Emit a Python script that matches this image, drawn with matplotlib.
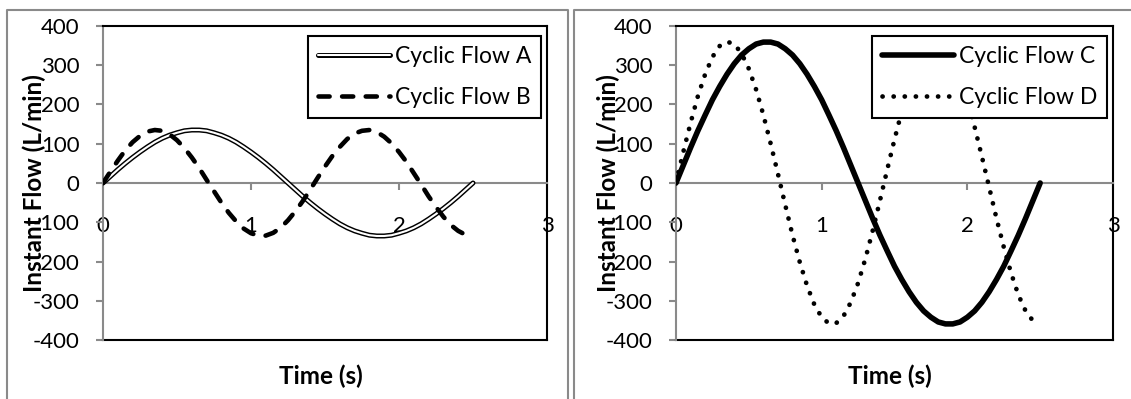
import matplotlib
matplotlib.use("Agg")
import matplotlib.pyplot as plt
from matplotlib.lines import Line2D

plt.rcParams['font.family'] = ['Lato', 'DejaVu Sans']
plt.rcParams['axes.unicode_minus'] = False
plt.rcParams['lines.scale_dashes'] = False

# ---- data -------------------------------------------------------------
time_s = [0.00, 0.05, 0.10, 0.15, 0.20, 0.25, 0.30, 0.35, 0.40, 0.45,
          0.50, 0.55, 0.60, 0.65, 0.70, 0.75, 0.80, 0.85, 0.90, 0.95,
          1.00, 1.05, 1.10, 1.15, 1.20, 1.25, 1.30, 1.35, 1.40, 1.45,
          1.50, 1.55, 1.60, 1.65, 1.70, 1.75, 1.80, 1.85, 1.90, 1.95,
          2.00, 2.05, 2.10, 2.15, 2.20, 2.25, 2.30, 2.35, 2.40, 2.45,
          2.50]

flow_a = [0, 17, 34, 50, 65, 79, 92, 104, 114, 122,
          128, 133, 135, 135, 133, 128, 122, 114, 104, 92,
          79, 65, 50, 34, 17, 0, -17, -34, -50, -65,
          -79, -92, -104, -114, -122, -128, -133, -135, -135, -133,
          -128, -122, -114, -104, -92, -79, -65, -50, -34, -17,
          0]

flow_b = [0, 29, 57, 83, 104, 120, 131, 135, 133, 124,
          109, 89, 65, 38, 8, -21, -50, -76, -98, -116,
          -128, -134, -134, -127, -114, -95, -72, -46, -17, 13,
          42, 69, 92, 112, 126, 133, 135, 130, 118, 101,
          79, 54, 25, -4, -34, -61, -86, -107, -122, -132,
          -135]

flow_c = [0, 45, 90, 133, 173, 212, 246, 277, 304, 326,
          342, 354, 359, 359, 354, 342, 326, 304, 277, 246,
          212, 173, 133, 90, 45, 0, -45, -90, -133, -173,
          -212, -246, -277, -304, -326, -342, -354, -359, -359, -354,
          -342, -326, -304, -277, -246, -212, -173, -133, -90, -45,
          0]

flow_d = [0, 79, 153, 221, 277, 321, 349, 360, 354, 330,
          291, 238, 173, 100, 23, -56, -133, -202, -262, -310,
          -342, -358, -357, -339, -304, -255, -193, -122, -45, 34,
          111, 183, 246, 298, 335, 356, 359, 346, 315, 270,
          212, 143, 67, -11, -90, -163, -229, -285, -326, -351,
          -360]

x_ticks = [0, 1, 2, 3]
y_ticks = [400, 300, 200, 100, 0, -100, -200, -300, -400]
x_label = 'Time (s)'
y_label = 'Instant Flow (L/min)'

# ---- layout -----------------------------------------------------------
W, H, DPI = 1131, 399, 100
GRAY = '#8a8a8a'
TICK_FS = 16
LABEL_FS = 17.5
LEGEND_FS = 16.5

fig = plt.figure(figsize=(W / DPI, H / DPI), dpi=DPI)


def fx(px):
    return px / W


def fy(py):
    return 1 - py / H


def panel_border(points):
    xs = [fx(p[0]) for p in points]
    ys = [fy(p[1]) for p in points]
    fig.add_artist(Line2D(xs, ys, color=GRAY, lw=1.5, transform=fig.transFigure))


# gray outlines around each chart panel
panel_border([(7, H + 5), (7, 10), (568, 10), (568, H + 5)])
panel_border([(574, H + 5), (574, 10), (W + 5, 10)])


def style_axes(ax):
    ax.set_xlim(0, 3)
    ax.set_ylim(-400, 400)
    ax.set_xticks(x_ticks)
    ax.set_xticklabels([str(v) for v in x_ticks])
    ax.set_yticks(y_ticks)
    ax.set_yticklabels([str(v) for v in y_ticks])

    # horizontal axis crosses at zero; plot area keeps a black frame
    ax.spines['bottom'].set_position(('data', 0))
    ax.spines['bottom'].set_color(GRAY)
    ax.spines['bottom'].set_linewidth(1.5)
    ax.spines['left'].set_color(GRAY)
    ax.spines['left'].set_linewidth(1.5)
    for side in ('top', 'right'):
        ax.spines[side].set_color('black')
        ax.spines[side].set_linewidth(1.5)
    ax.add_line(Line2D([0, 1], [0, 0], transform=ax.transAxes, color='black',
                       lw=1.5, clip_on=False, zorder=2.5))

    ax.tick_params(axis='both', direction='out', length=5, width=1.5,
                   color=GRAY, labelsize=TICK_FS, labelcolor='black')
    ax.tick_params(axis='x', pad=19)
    ax.tick_params(axis='y', pad=12)

    ax.set_xlabel(x_label, fontsize=LABEL_FS, fontweight='bold')
    ax.xaxis.set_label_coords(0.49, -0.117)
    ax.xaxis.label.set_va('center')
    ax.set_ylabel(y_label, fontsize=LABEL_FS, fontweight='bold')
    ax.yaxis.set_label_coords(-0.155, 0.5)
    ax.yaxis.label.set(va='center', ha='center')


def add_legend(ax, handles, labels):
    leg = ax.legend(handles, labels, loc='upper right',
                    bbox_to_anchor=(0.986, 0.968), borderaxespad=0,
                    frameon=True, fancybox=False, framealpha=1,
                    edgecolor='black', fontsize=LEGEND_FS,
                    handlelength=3.15, handletextpad=0.2,
                    labelspacing=0.9, borderpad=0.42)
    leg.get_frame().set_linewidth(1.5)
    leg.set_zorder(5)


ax1 = fig.add_axes([fx(103), fy(340), fx(444), 314 / H])
ax2 = fig.add_axes([fx(676), fy(340), fx(437), 314 / H])

# left chart: A (double line) and B (long dash)
a_outer, = ax1.plot(time_s, flow_a, color='black', lw=3.6,
                    solid_capstyle='round', zorder=3)
a_inner, = ax1.plot(time_s, flow_a, color='white', lw=1.5,
                    solid_capstyle='round', zorder=3.1)
b_line, = ax1.plot(time_s, flow_b, color='black', lw=3.3,
                   linestyle=(0, (8, 9)), dash_capstyle='round', zorder=3.2)
style_axes(ax1)
add_legend(ax1, [(a_outer, a_inner), b_line], ['Cyclic Flow A', 'Cyclic Flow B'])

# right chart: C (heavy solid) and D (round dots)
c_line, = ax2.plot(time_s, flow_c, color='black', lw=4,
                   solid_capstyle='round', zorder=3)
d_line, = ax2.plot(time_s, flow_d, color='black', lw=3.4,
                   linestyle=(0, (0.1, 7.9)), dash_capstyle='round', zorder=3.1)
style_axes(ax2)
add_legend(ax2, [c_line, d_line], ['Cyclic Flow C', 'Cyclic Flow D'])

fig.savefig('out.png', dpi=DPI, facecolor='white')
